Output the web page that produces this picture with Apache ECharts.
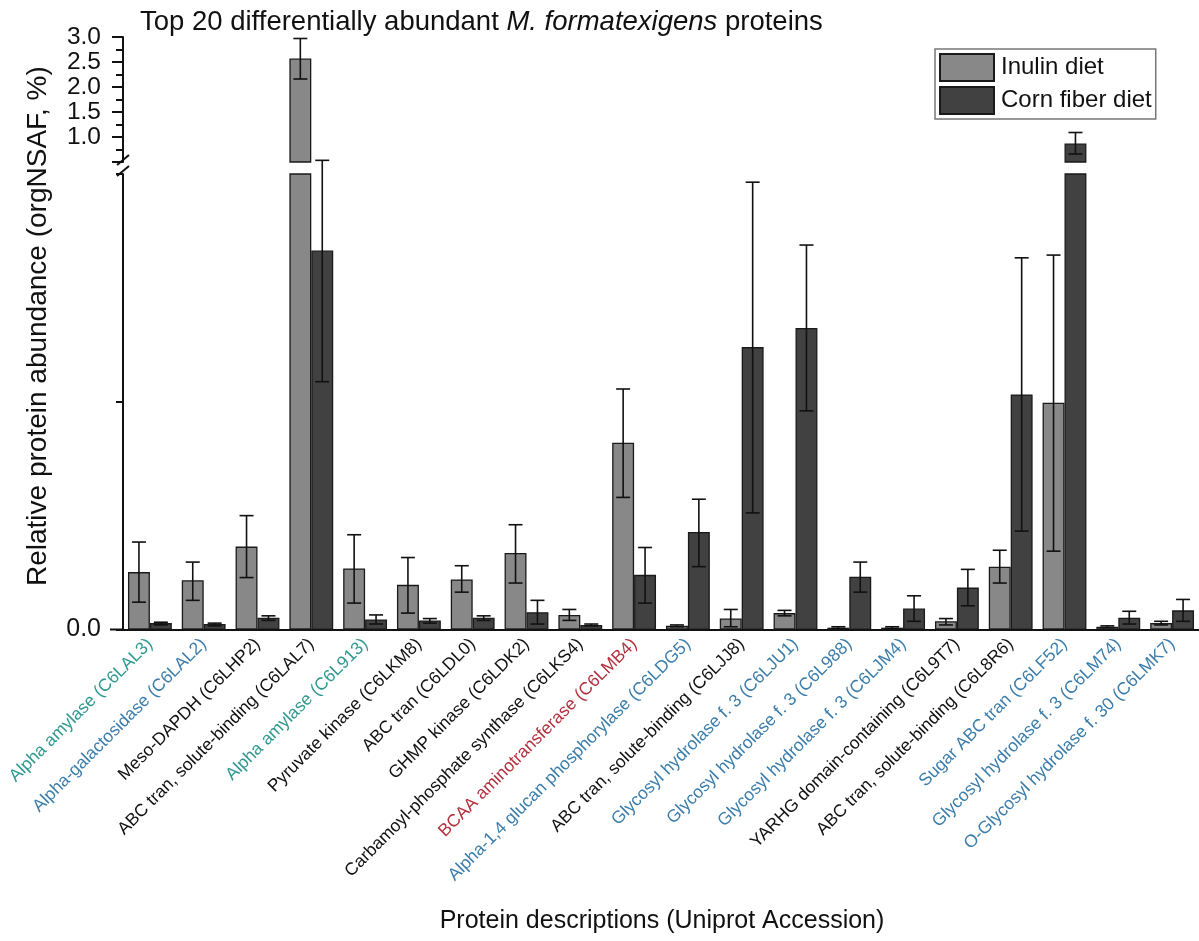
<!DOCTYPE html>
<html>
<head>
<meta charset="utf-8">
<script src="https://cdn.jsdelivr.net/npm/echarts@6/dist/echarts.min.js"></script>
<style>html,body{margin:0;padding:0;background:#fff}#c{width:1199px;height:941px}</style>
</head>
<body>
<div id="c"></div>
<script>
const categories = [
  'Alpha amylase (C6LAL3)', 'Alpha-galactosidase (C6LAL2)', 'Meso-DAPDH (C6LHP2)',
  'ABC tran, solute-binding (C6LAL7)', 'Alpha amylase (C6L913)', 'Pyruvate kinase (C6LKM8)',
  'ABC tran (C6LDL0)', 'GHMP kinase (C6LDK2)', 'Carbamoyl-phosphate synthase (C6LKS4)',
  'BCAA aminotransferase (C6LMB4)', 'Alpha-1,4 glucan phosphorylase (C6LDG5)',
  'ABC tran, solute-binding (C6LJJ8)', 'Glycosyl hydrolase f. 3 (C6LJU1)',
  'Glycosyl hydrolase f. 3 (C6L988)', 'Glycosyl hydrolase f. 3 (C6LJM4)',
  'YARHG domain-containing (C6L9T7)', 'ABC tran, solute-binding (C6L8R6)',
  'Sugar ABC tran (C6LF52)', 'Glycosyl hydrolase f. 3 (C6LM74)', 'O-Glycosyl hydrolase f. 30 (C6LMK7)'
];
const labelGroup = ['teal','blue','black','black','teal','black','black','black','black','red',
  'blue','black','blue','blue','blue','black','black','blue','blue','blue'];

const inulin   = [0.063, 0.054, 0.091, 2.57, 0.067, 0.049, 0.055, 0.084, 0.016, 0.205, 0.004, 0.012, 0.018, 0.002, 0.002, 0.009, 0.069, 0.249, 0.003, 0.007];
const inulinLo = [0.030, 0.032, 0.057, 2.16, 0.029, 0.018, 0.041, 0.051, 0.010, 0.145, 0.003, 0.003, 0.015, 0.001, 0.001, 0.005, 0.051, 0.086, 0.002, 0.005];
const inulinHi = [0.096, 0.074, 0.125, 2.97, 0.104, 0.079, 0.070, 0.115, 0.022, 0.264, 0.005, 0.022, 0.021, 0.003, 0.003, 0.012, 0.087, 0.411, 0.004, 0.009];
const corn     = [0.007, 0.006, 0.013, 0.416, 0.011, 0.010, 0.013, 0.019, 0.005, 0.060, 0.107, 0.310, 0.331, 0.058, 0.023, 0.046, 0.258, 0.87, 0.013, 0.021];
const cornLo   = [0.005, 0.004, 0.010, 0.272, 0.006, 0.007, 0.010, 0.006, 0.004, 0.029, 0.069, 0.128, 0.240, 0.041, 0.009, 0.026, 0.108, 0.66, 0.006, 0.009];
const cornHi   = [0.008, 0.007, 0.015, 0.515, 0.016, 0.012, 0.015, 0.032, 0.006, 0.090, 0.143, 0.491, 0.422, 0.074, 0.037, 0.066, 0.408, 1.09, 0.020, 0.033];

const upperTicks = [0.5, 3.0, 0.5];   // min, max, interval (upper segment)
const lowerTicks = [0, 0.5, 0.25];    // min, max, interval (lower segment)
const BREAK = 0.5;

const FONT = 'Liberation Sans, Arial, Helvetica, sans-serif';
const colorMap = {teal:'#2f9990', blue:'#3b7dab', red:'#b3303d', black:'#111111'};
const CAT_GAP = 0.185;

function errData(lo, hi, upper) {
  const out = [];
  for (let i = 0; i < lo.length; i++) {
    if (upper ? lo[i] >= BREAK : lo[i] < BREAK) out.push([i, lo[i], hi[i]]);
  }
  return out;
}
function makeRender(sign) {
  return function (params, api) {
    const i = api.value(0);
    const pLo = api.coord([i, api.value(1)]);
    const pHi = api.coord([i, api.value(2)]);
    const band = api.size([1, 0])[0];
    const bw = band * (1 - CAT_GAP) / 2;
    const x = pLo[0] + sign * bw / 2;
    const cap = 7;
    const st = {stroke: '#111', lineWidth: 1.6};
    return {type: 'group', children: [
      {type: 'line', shape: {x1: x, y1: pLo[1], x2: x, y2: pHi[1]}, style: st},
      {type: 'line', shape: {x1: x - cap, y1: pHi[1], x2: x + cap, y2: pHi[1]}, style: st},
      {type: 'line', shape: {x1: x - cap, y1: pLo[1], x2: x + cap, y2: pLo[1]}, style: st}
    ]};
  };
}

const gridLeft = 123, gridWidth = 1079;
const barStyleIn = {color: '#888888', borderColor: '#1a1a1a', borderWidth: 1.3};
const barStyleCo = {color: '#414141', borderColor: '#1a1a1a', borderWidth: 1.3};

const option = {
  animation: false,
  backgroundColor: '#ffffff',
  textStyle: {fontFamily: FONT},
  title: {
    left: 135, top: 3,
    text: '{n|Top 20 differentially abundant }{i|M. formatexigens}{n| proteins}',
    textStyle: {rich: {
      n: {fontFamily: FONT, fontSize: 27.5, color: '#111', fontWeight: 'normal'},
      i: {fontFamily: FONT, fontSize: 27.5, color: '#111', fontStyle: 'italic', fontWeight: 'normal'}
    }}
  },
  legend: {
    left: 935, top: 49, orient: 'vertical',
    padding: [4, 4, 4, 4], itemGap: 4,
    itemWidth: 54, itemHeight: 27,
    borderColor: '#777', borderWidth: 1.5, backgroundColor: '#fff',
    icon: 'rect',
    textStyle: {fontFamily: FONT, fontSize: 24, color: '#111', padding: [0, 0, 0, 2]},
    data: ['Inulin diet', 'Corn fiber diet']
  },
  grid: [
    {left: gridLeft, width: gridWidth, top: 37, height: 125},
    {left: gridLeft, width: gridWidth, top: 174, height: 455.5}
  ],
  xAxis: [
    {type: 'category', gridIndex: 0, data: categories, show: false},
    {type: 'category', gridIndex: 1, data: categories,
     axisLine: {lineStyle: {color: '#111', width: 2}},
     axisTick: {alignWithLabel: true, length: 10, lineStyle: {color: '#111', width: 2}},
     axisLabel: {interval: 0, rotate: 45, margin: 12, fontSize: 17.5, fontFamily: FONT,
       color: function (v, i) { return colorMap[labelGroup[i]]; }}
    }
  ],
  yAxis: [
    {type: 'value', gridIndex: 0, min: upperTicks[0], max: upperTicks[1], interval: upperTicks[2],
     splitLine: {show: false},
     axisLine: {show: true, lineStyle: {color: '#111', width: 2}},
     axisTick: {show: true, length: 11, lineStyle: {color: '#111', width: 2}},
     minorTick: {show: true, splitNumber: 2, length: 7, lineStyle: {color: '#111', width: 2}},
     axisLabel: {margin: 22, fontSize: 24.5, fontFamily: FONT, color: '#111',
       showMaxLabel: true, showMinLabel: true, hideOverlap: false,
       formatter: function (v) { return v <= upperTicks[0] ? '' : v.toFixed(1); }}
    },
    {type: 'value', gridIndex: 1, min: lowerTicks[0], max: lowerTicks[1], interval: lowerTicks[2],
     splitLine: {show: false},
     axisLine: {show: true, lineStyle: {color: '#111', width: 2}},
     axisTick: {show: true, length: 7, lineStyle: {color: '#111', width: 2}},
     axisLabel: {margin: 22, fontSize: 25, fontFamily: FONT, color: '#111',
       formatter: function (v) { return v === 0 ? '0.0' : ''; }}
    }
  ],
  series: [
    {name: 'Inulin diet', type: 'bar', xAxisIndex: 0, yAxisIndex: 0, barGap: '0%', barCategoryGap: (CAT_GAP * 100) + '%',
     itemStyle: barStyleIn, data: inulin.map(v => v > BREAK ? v : '-')},
    {name: 'Corn fiber diet', type: 'bar', xAxisIndex: 0, yAxisIndex: 0, barGap: '0%', barCategoryGap: (CAT_GAP * 100) + '%',
     itemStyle: barStyleCo, data: corn.map(v => v > BREAK ? v : '-')},
    {name: 'Inulin diet', type: 'bar', xAxisIndex: 1, yAxisIndex: 1, barGap: '0%', barCategoryGap: (CAT_GAP * 100) + '%',
     itemStyle: barStyleIn, data: inulin},
    {name: 'Corn fiber diet', type: 'bar', xAxisIndex: 1, yAxisIndex: 1, barGap: '0%', barCategoryGap: (CAT_GAP * 100) + '%',
     itemStyle: barStyleCo, data: corn},
    {name: 'errInU', type: 'custom', xAxisIndex: 0, yAxisIndex: 0, z: 5, encode: {x: 0, y: [1, 2]},
     renderItem: makeRender(-1), data: errData(inulinLo, inulinHi, true)},
    {name: 'errCoU', type: 'custom', xAxisIndex: 0, yAxisIndex: 0, z: 5, encode: {x: 0, y: [1, 2]},
     renderItem: makeRender(1), data: errData(cornLo, cornHi, true)},
    {name: 'errInL', type: 'custom', xAxisIndex: 1, yAxisIndex: 1, z: 5, clip: false, encode: {x: 0, y: [1, 2]},
     renderItem: makeRender(-1), data: errData(inulinLo, inulinHi, false)},
    {name: 'errCoL', type: 'custom', xAxisIndex: 1, yAxisIndex: 1, z: 5, clip: false, encode: {x: 0, y: [1, 2]},
     renderItem: makeRender(1), data: errData(cornLo, cornHi, false)}
  ],
  graphic: [
    {type: 'text', z: 10, rotation: Math.PI / 2, position: [24, 586],
     style: {text: 'Relative protein abundance (orgNSAF, %)', font: '28px ' + FONT, fill: '#111'}},
    {type: 'text', z: 10, position: [662, 921],
     style: {text: 'Protein descriptions (Uniprot Accession)', font: '25px ' + FONT, fill: '#111',
       textAlign: 'center', textVerticalAlign: 'middle'}},
    {type: 'line', z: 10, shape: {x1: 117, y1: 165, x2: 129, y2: 155}, style: {stroke: '#111', lineWidth: 2}},
    {type: 'line', z: 10, shape: {x1: 117, y1: 176, x2: 129, y2: 166}, style: {stroke: '#111', lineWidth: 2}},
    {type: 'line', z: 10, shape: {x1: 110, y1: 629.5, x2: 124, y2: 629.5}, style: {stroke: '#111', lineWidth: 2}}
  ]
};

const chart = echarts.init(document.getElementById('c'), null, {renderer: 'canvas'});
chart.setOption(option);
</script>
</body>
</html>
